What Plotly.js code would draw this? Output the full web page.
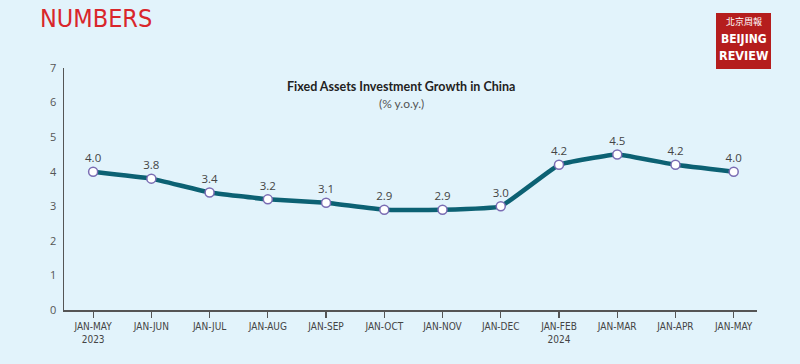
<!DOCTYPE html>
<html>
<head>
<meta charset="utf-8">
<script src="https://cdn.plot.ly/plotly-3.0.1.min.js"></script>
<style>
  html, body { margin: 0; padding: 0; background: #e2f3fb; }
  #chart { width: 800px; height: 364px; }
</style>
</head>
<body>
<div id="chart"></div>
<script>
var categories = ["JAN-MAY<br>2023", "JAN-JUN", "JAN-JUL", "JAN-AUG", "JAN-SEP", "JAN-OCT",
                  "JAN-NOV", "JAN-DEC", "JAN-FEB<br>2024", "JAN-MAR", "JAN-APR", "JAN-MAY"];
var growth = [4.0, 3.8, 3.4, 3.2, 3.1, 2.9, 2.9, 3.0, 4.2, 4.5, 4.2, 4.0];
var yTicks = [0, 1, 2, 3, 4, 5, 6, 7];

var W = 800, H = 364;
var M = {l: 64, r: 43, t: 68, b: 54};
var pw = W - M.l - M.r, ph = H - M.t - M.b;
function px(x) { return (x - M.l) / pw; }
function py(y) { return (H - M.b - y) / ph; }

var idx = categories.map(function (_, i) { return i; });

var trace = {
  x: idx,
  y: growth,
  mode: "lines+markers+text",
  text: growth.map(function (v) { return v.toFixed(1); }),
  textposition: "top center",
  textfont: {family: "Open Sans, sans-serif", size: 11.5, color: "#444"},
  line: {color: "#0c6173", width: 4.5, shape: "spline", smoothing: 0.3},
  marker: {size: 9, color: "#ffffff", line: {color: "#7a6cb3", width: 1.5}},
  cliponaxis: false,
  hoverinfo: "skip"
};

var layout = {
  width: W, height: H,
  margin: M,
  paper_bgcolor: "#e2f3fb",
  plot_bgcolor: "#e2f3fb",
  showlegend: false,
  xaxis: {
    range: [-0.5, 11.4],
    tickmode: "array",
    tickvals: idx,
    ticktext: categories,
    showgrid: false,
    zeroline: false,
    showline: true,
    linecolor: "#555",
    linewidth: 1.5,
    ticks: "outside",
    ticklen: 6,
    tickwidth: 1.2,
    tickcolor: "#555",
    tickfont: {family: "DejaVu Sans Condensed, sans-serif", size: 10, color: "#444"},
    fixedrange: true
  },
  yaxis: {
    range: [0, 7],
    tickmode: "array",
    tickvals: yTicks,
    ticktext: yTicks.map(String),
    showgrid: false,
    zeroline: false,
    showline: true,
    linecolor: "#555",
    linewidth: 1.5,
    ticks: "",
    ticklabelstandoff: 4,
    tickfont: {family: "Open Sans, sans-serif", size: 11, color: "#555"},
    fixedrange: true
  },
  shapes: [
    {type: "rect", xref: "paper", yref: "paper",
     x0: px(716), x1: px(771), y0: py(69), y1: py(13),
     fillcolor: "#b51d1d", line: {width: 0}, layer: "above"}
  ],
  annotations: [
    {xref: "paper", yref: "paper", x: px(401), y: py(87), xanchor: "center", yanchor: "middle",
     text: "<b>Fixed Assets Investment Growth in China</b>", showarrow: false,
     font: {family: "Lato, sans-serif", size: 12.5, color: "#222"}},
    {xref: "paper", yref: "paper", x: px(401), y: py(104), xanchor: "center", yanchor: "middle",
     text: "(% y.o.y.)", showarrow: false,
     font: {family: "Lato, sans-serif", size: 12, color: "#555"}},
    {xref: "paper", yref: "paper", x: px(38), y: py(18), xanchor: "left", yanchor: "middle",
     text: "NUMBERS", showarrow: false,
     font: {family: "DejaVu Sans Condensed, sans-serif", size: 25, color: "#d9262b"}},
    {xref: "paper", yref: "paper", x: px(743.5), y: py(21), xanchor: "center", yanchor: "middle",
     text: "北京周報", showarrow: false,
     font: {family: "Noto Sans CJK TC, sans-serif", size: 9, color: "#ffffff"}},
    {xref: "paper", yref: "paper", x: px(743.5), y: py(39), xanchor: "center", yanchor: "middle",
     text: "<b>BEIJING</b>", showarrow: false,
     font: {family: "DejaVu Sans Condensed, sans-serif", size: 12, color: "#ffffff"}},
    {xref: "paper", yref: "paper", x: px(743.5), y: py(56), xanchor: "center", yanchor: "middle",
     text: "<b>REVIEW</b>", showarrow: false,
     font: {family: "DejaVu Sans Condensed, sans-serif", size: 12.5, color: "#ffffff"}}
  ]
};

Plotly.newPlot("chart", [trace], layout, {displayModeBar: false, staticPlot: true});
</script>
</body>
</html>
